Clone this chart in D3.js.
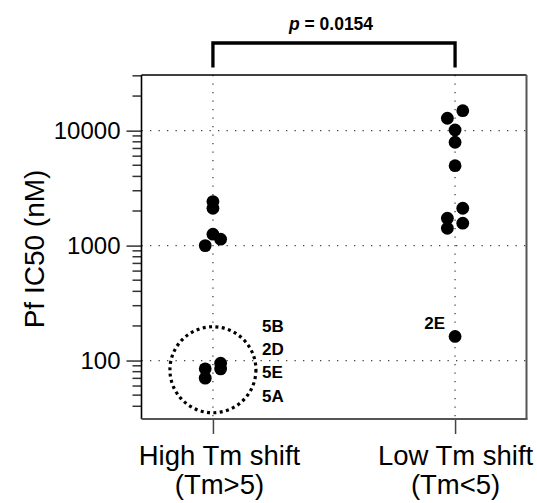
<!DOCTYPE html>
<html>
<head>
<meta charset="utf-8">
<script src="https://cdn.jsdelivr.net/npm/d3@7"></script>
<style>
  body { margin: 0; background: #fff; }
  text { font-family: "Liberation Sans", Arial, Helvetica, sans-serif; }
</style>
</head>
<body>
<div id="viz"></div>
<script>
// chart values
const groupNames = ["High Tm shift", "Low Tm shift"],
    groupSubs = ["(Tm>5)", "(Tm<5)"];

// Pf IC50 (nM) per compound, plus swarm slot (-1 left, 0 centre, 1 right)
const highVals = [2415, 2113, 1256, 1137, 1000, 94.9, 84.7, 84.5, 70.3],
    highSlot = [0, 0, 0, 1, -1, 1, -1, 1, -1];
const lowVals = [14930, 12820, 10140, 7930, 4960, 2113, 1730, 1567, 1416, 162],
    lowSlot = [1, -1, 0, 0, 0, 1, -1, 1, -1, 0];

const circledNames = ["5B", "2D", "5E", "5A"],
    circledVals = [94.9, 84.7, 84.5, 70.3];
const lowNote = "2E", lowNoteVal = 162;
const pValue = "0.0154";
const yDomain = [31, 30500];

// layout
const outerWidth = 537, outerHeight = 503,
    margin = {top: 75, right: 10.5, bottom: 84, left: 141.5},
    width = outerWidth - margin.left - margin.right,
    height = outerHeight - margin.top - margin.bottom;

const radius = 6.4,
    slotStep = 7.7,   // px between swarm columns
    ringRadius = 43,
    labelShift = [6, 0]; // first category label sits a bit right of its tick

window.onload = function main () {

const svg = d3.select("#viz").append("svg")
    .attr("width", outerWidth)
    .attr("height", outerHeight)
  .append("g")
    .attr("transform", "translate(" + margin.left + "," + margin.top + ")");

const x = d3.scalePoint().domain(groupNames).range([0, width]).padding(0.295),
    y = d3.scaleLog().domain(yDomain).range([height, 0]);

const majors = [100, 1000, 10000];

// dotted grid
svg.append("g").selectAll("line")
    .data(majors).enter().append("line")
    .attr("x1", 0).attr("x2", width)
    .attr("y1", d => y(d)).attr("y2", d => y(d))
    .attr("stroke", "#444").attr("stroke-width", 1.3)
    .attr("stroke-dasharray", "1.3,7.2");
svg.append("g").selectAll("line")
    .data(groupNames).enter().append("line")
    .attr("x1", d => x(d)).attr("x2", d => x(d))
    .attr("y1", 0).attr("y2", height)
    .attr("stroke", "#444").attr("stroke-width", 1.3)
    .attr("stroke-dasharray", "1.3,7.2");

// y axis: long ticks at decades, short ticks between
const yAxis = d3.axisLeft(y)
    .tickValues(majors)
    .tickFormat(d3.format("d"))
    .tickSize(15).tickPadding(6);
const gy = svg.append("g").call(yAxis);
gy.select(".domain").remove();
gy.selectAll(".tick line").attr("stroke", "#333").attr("stroke-width", 1.5);
gy.selectAll(".tick text")
    .attr("font-size", 24).attr("fill", "#000")
    .attr("font-family", "Liberation Sans, Arial, sans-serif");

const minors = y.ticks().filter(d => majors.indexOf(d) < 0);
svg.append("g").selectAll("line")
    .data(minors).enter().append("line")
    .attr("x1", -9).attr("x2", 0)
    .attr("y1", d => y(d)).attr("y2", d => y(d))
    .attr("stroke", "#333").attr("stroke-width", 1.5);

// x axis
const xAxis = d3.axisBottom(x).tickSize(15).tickFormat("");
const gx = svg.append("g")
    .attr("transform", "translate(0," + height + ")")
    .call(xAxis);
gx.select(".domain").remove();
gx.selectAll(".tick line").attr("stroke", "#444").attr("stroke-width", 1.5);
gx.selectAll(".tick").append("text")
    .attr("x", (d, i) => labelShift[i])
    .attr("y", 46).attr("text-anchor", "middle")
    .attr("font-size", 27.5).attr("fill", "#000")
    .text(d => d);
gx.selectAll(".tick").append("text")
    .attr("x", (d, i) => labelShift[i])
    .attr("y", 75).attr("text-anchor", "middle")
    .attr("font-size", 27.5).attr("fill", "#000")
    .text((d, i) => groupSubs[i]);

// frame: black left/top, grey right/bottom
svg.append("line").attr("x1", 0).attr("x2", 0).attr("y1", 0).attr("y2", height)
    .attr("stroke", "#000").attr("stroke-width", 1.6);
svg.append("line").attr("x1", 0).attr("x2", width).attr("y1", 0).attr("y2", 0)
    .attr("stroke", "#000").attr("stroke-width", 1.6);
svg.append("line").attr("x1", width).attr("x2", width).attr("y1", 0).attr("y2", height)
    .attr("stroke", "#555").attr("stroke-width", 2);
svg.append("line").attr("x1", 0).attr("x2", width + 1).attr("y1", height).attr("y2", height)
    .attr("stroke", "#555").attr("stroke-width", 2);

// y title
svg.append("text")
    .attr("transform", "translate(" + (-98) + "," + (height / 2 + 2) + ") rotate(-90)")
    .attr("text-anchor", "middle")
    .attr("font-size", 28)
    .text("Pf IC50 (nM)");

// points
const pts = highVals.map((v, i) => ({g: groupNames[0], v: v, s: highSlot[i]}))
    .concat(lowVals.map((v, i) => ({g: groupNames[1], v: v, s: lowSlot[i]})));
svg.append("g").selectAll("circle")
    .data(pts).enter().append("circle")
    .attr("cx", d => x(d.g) + d.s * slotStep)
    .attr("cy", d => y(d.v))
    .attr("r", radius)
    .attr("fill", "#000");

// dotted ring around the potent cluster
const ringY = y(Math.exp(d3.mean(circledVals, d => Math.log(d))));
svg.append("circle")
    .attr("cx", x(groupNames[0]))
    .attr("cy", ringY)
    .attr("r", ringRadius)
    .attr("fill", "none")
    .attr("stroke", "#000").attr("stroke-width", 3.2)
    .attr("stroke-dasharray", "3,3.4");

svg.append("g").selectAll("text")
    .data(circledNames).enter().append("text")
    .attr("x", x(groupNames[0]) + ringRadius + 6)
    .attr("y", (d, i) => ringY - 3 + (i - 1.5) * 23.3)
    .attr("font-size", 17).attr("font-weight", "bold")
    .text(d => d);

svg.append("text")
    .attr("x", x(groupNames[1]) - 10)
    .attr("y", y(lowNoteVal) - 7)
    .attr("text-anchor", "end")
    .attr("font-size", 17).attr("font-weight", "bold")
    .text(lowNote);

// significance bracket
const bx0 = x(groupNames[0]), bx1 = x(groupNames[1]);
svg.append("path")
    .attr("d", "M" + bx0 + ",-7.5V-32H" + bx1 + "V-7.5")
    .attr("fill", "none").attr("stroke", "#000").attr("stroke-width", 3.3);
const pt = svg.append("text")
    .attr("x", (bx0 + bx1) / 2 - 3)
    .attr("y", -45)
    .attr("text-anchor", "middle")
    .attr("font-size", 17.5).attr("font-weight", "bold");
pt.append("tspan").attr("font-style", "italic").text("p");
pt.append("tspan").text(" = " + pValue);

};
</script>
</body>
</html>
